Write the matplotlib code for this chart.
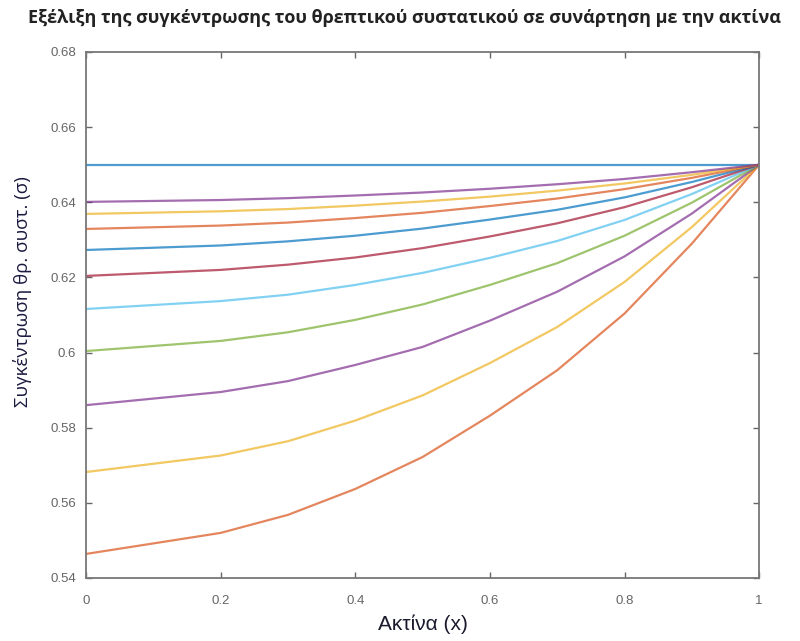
import matplotlib
matplotlib.use("Agg")
from matplotlib import pyplot as plt
from matplotlib.ticker import FuncFormatter

# radial positions of the grid nodes
x = [0, 0.2, 0.3, 0.4, 0.5, 0.6, 0.7, 0.8, 0.9, 1.0]

# nutrient concentration profiles, one per time level
c01 = [0.65, 0.65, 0.65, 0.65, 0.65, 0.65, 0.65, 0.65, 0.65, 0.65]
c02 = [0.5464, 0.5520, 0.5568, 0.5637, 0.5722, 0.5832, 0.5953, 0.6104, 0.6290, 0.65]
c03 = [0.5682, 0.5726, 0.5764, 0.5819, 0.5886, 0.5972, 0.6068, 0.6188, 0.6334, 0.65]
c04 = [0.5860, 0.5895, 0.5924, 0.5967, 0.6015, 0.6085, 0.6162, 0.6256, 0.6370, 0.65]
c05 = [0.6004, 0.6031, 0.6054, 0.6087, 0.6128, 0.6180, 0.6238, 0.6311, 0.6399, 0.65]
c06 = [0.6116, 0.6137, 0.6154, 0.6180, 0.6212, 0.6252, 0.6297, 0.6353, 0.6422, 0.65]
c07 = [0.6204, 0.6220, 0.6234, 0.6253, 0.6278, 0.6309, 0.6344, 0.6387, 0.6440, 0.65]
c08 = [0.6273, 0.6285, 0.6296, 0.6311, 0.6330, 0.6354, 0.6380, 0.6413, 0.6454, 0.65]
c09 = [0.6329, 0.6338, 0.6346, 0.6358, 0.6372, 0.6390, 0.6410, 0.6435, 0.6465, 0.65]
c10 = [0.6369, 0.6376, 0.6382, 0.6391, 0.6402, 0.6415, 0.6431, 0.6450, 0.6473, 0.65]
c11 = [0.6401, 0.6406, 0.6411, 0.6418, 0.6426, 0.6436, 0.6448, 0.6462, 0.6480, 0.65]
profiles = [c01, c02, c03, c04, c05, c06, c07, c08, c09, c10, c11]

# octave default colour order
colors = ['#0072bd', '#d95319', '#edb120', '#7e2f8e', '#77ac30', '#4dbeee', '#a2142f']

title = 'Εξέλιξη της συγκέντρωσης του θρεπτικού συστατικού σε συνάρτηση με την ακτίνα'
xlab = 'Ακτίνα (x)'
ylab = 'Συγκέντρωση θρ. συστ. (σ)'

fig = plt.figure(figsize=(8.0, 6.41), dpi=100)
ax = fig.add_axes([0.1075, 0.0983, 0.8415, 0.8206])

for i, c in enumerate(profiles):
    ax.plot(x, c, color=colors[i % len(colors)], lw=1.6, alpha=0.7, solid_capstyle='butt')

ax.set_xlim(0, 1)
ax.set_ylim(0.54, 0.68)
ax.set_xticks([0, 0.2, 0.4, 0.6, 0.8, 1])
ax.set_yticks([0.54, 0.56, 0.58, 0.60, 0.62, 0.64, 0.66, 0.68])
fmt = FuncFormatter(lambda v, p: '%g' % round(v, 2))
ax.xaxis.set_major_formatter(fmt)
ax.yaxis.set_major_formatter(fmt)
ax.tick_params(direction='in', length=4, width=1, colors='#666666', labelsize=9.5,
               top=True, right=True)
ax.tick_params(axis='x', pad=12)
ax.tick_params(axis='y', pad=7)
for s in ax.spines.values():
    s.set_color('#777777')
    s.set_linewidth(1.3)
for lbl in ax.get_xticklabels() + ax.get_yticklabels():
    lbl.set_family('Liberation Sans')
    lbl.set_color('#666666')

ax.set_xlabel(xlab, fontsize=15, family='Liberation Sans', color='#1a1a2e', labelpad=6)
ax.set_ylabel(ylab, fontsize=13.5, family='Open Sans', color='#1a1a40')
ax.yaxis.set_label_coords(-0.08, 0.545)
fig.text(0.505, 0.972, title, ha='center', va='center', fontsize=13,
         family='Open Sans', fontweight='bold', color='#222222')

fig.savefig('out.png', dpi=100, facecolor='white')
